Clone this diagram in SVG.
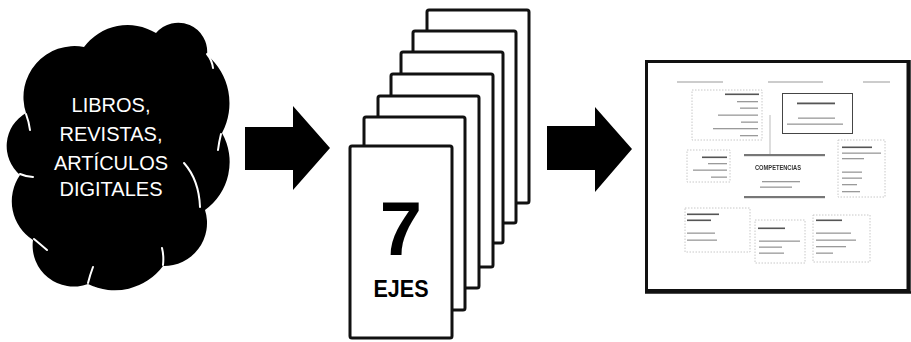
<svg xmlns="http://www.w3.org/2000/svg" width="911" height="342" viewBox="0 0 911 342">
<defs>
<style>
.card{fill:#fff;stroke:#111;stroke-width:3;stroke-linejoin:round}
.arrow{fill:#000}
.cloudtxt{font-family:"Liberation Sans",Arial,sans-serif;font-size:20px;fill:#fff;text-anchor:middle}
.big{font-family:"Liberation Sans",Arial,sans-serif;font-weight:bold;fill:#000;text-anchor:middle}
.cusp{fill:none;stroke:#fff;stroke-width:2;stroke-linecap:round}
.t{fill:#9a9a9a}
.tb{fill:#555}
.dbox{fill:none;stroke:#c8c8c8;stroke-width:1;stroke-dasharray:1.5 1.5}
</style>
<filter id="soft" x="-5%" y="-5%" width="110%" height="110%"><feGaussianBlur stdDeviation="0.4"/></filter>
</defs>

<g id="cloud">
<path fill="#000" d="M26,113 A51,51 0 0 1 84,47 A54.6,54.6 0 0 1 156,33 A29,29 0 0 1 207,55 A63,63 0 0 1 222,133 A59,59 0 0 1 205,210 A43,43 0 0 1 163,266 A60,60 0 0 1 88,284 A41,41 0 0 1 33,240 A46,46 0 0 1 20,175 A38,38 0 0 1 26,113 Z"/>
<path class="cusp" d="M207,54 Q212,60 213,68"/>
<path class="cusp" d="M221,134 Q219,142 218,150"/>
<path class="cusp" d="M184,163 Q199,180 200,207"/>
<path class="cusp" d="M20,174 Q27,177 33,177"/>
<path class="cusp" d="M26,114 Q29,122 30,130"/>
<path class="cusp" d="M163,265 Q164,256 162,248"/>
<path class="cusp" d="M88,283 Q90,275 93,267"/>
<path class="cusp" d="M34,239 Q40,244 47,250"/>
<text class="cloudtxt" x="111" y="112">LIBROS,</text>
<text class="cloudtxt" x="111" y="141">REVISTAS,</text>
<text class="cloudtxt" x="111" y="170">ARTÍCULOS</text>
<text class="cloudtxt" x="111" y="196">DIGITALES</text>
</g>

<g id="cards">
<rect class="card" x="427" y="10" width="102" height="193" rx="2"/>
<rect class="card" x="413" y="31" width="103" height="192" rx="2"/>
<rect class="card" x="401" y="52" width="102" height="191" rx="2"/>
<rect class="card" x="391" y="74" width="102" height="193" rx="2"/>
<rect class="card" x="378" y="96" width="101" height="192" rx="2"/>
<rect class="card" x="364" y="117" width="101" height="193" rx="2"/>
<rect class="card" x="350" y="146" width="102" height="192" rx="2"/>
<text class="big" x="401" y="255" font-size="76">7</text>
<text class="big" x="401" y="297" font-size="24" textLength="55" lengthAdjust="spacingAndGlyphs">EJES</text>
</g>

<g id="connectors">
<path class="arrow" d="M245,127 H293 V106 L330,148 L293,190 V170 H245 Z"/>
<path class="arrow" d="M547,126 H595 V107 L632,149 L595,192 V170 H547 Z"/>
</g>

<g id="concept-map">
<rect x="646.5" y="61.5" width="261.5" height="229" fill="#fff" stroke="#111" stroke-width="3"/>
<line x1="645" y1="292.5" x2="911" y2="292.5" stroke="#111" stroke-width="2.5"/>
<line x1="909.5" y1="60" x2="909.5" y2="293" stroke="#111" stroke-width="2.5"/>
<g filter="url(#soft)">
<!-- header lines -->
<rect class="t" x="677" y="81.5" width="46" height="1"/>
<rect class="t" x="768" y="81.5" width="55" height="1"/>
<rect class="t" x="863" y="81.5" width="27" height="1"/>
<!-- box 1 -->
<rect class="dbox" x="692" y="90" width="70" height="50"/>
<rect class="tb" x="725" y="93.5" width="34" height="1.6"/>
<rect class="t" x="737" y="101" width="21" height="1.3"/>
<rect class="t" x="740" y="107.5" width="18" height="1.3"/>
<rect class="t" x="718" y="114.5" width="40" height="1.3"/>
<rect class="t" x="741" y="121.5" width="17" height="1.3"/>
<rect class="t" x="713" y="128" width="45" height="1.3"/>
<rect class="t" x="740" y="135" width="18" height="1.3"/>
<line x1="770" y1="115" x2="770" y2="154" stroke="#aaa" stroke-width="0.8"/>
<!-- box 2 -->
<rect x="782.5" y="93.5" width="70" height="40" fill="none" stroke="#444" stroke-width="1"/>
<rect class="tb" x="797" y="102.5" width="38" height="1.8"/>
<rect class="t" x="798" y="117.5" width="37" height="1.3"/>
<rect class="t" x="787" y="123.5" width="56" height="1.3"/>
<!-- box 3 -->
<rect class="dbox" x="687" y="150" width="43" height="32"/>
<rect class="tb" x="702" y="156.5" width="25" height="1.6"/>
<rect class="t" x="708" y="163" width="19" height="1.3"/>
<rect class="t" x="693" y="169.5" width="34" height="1.3"/>
<rect class="t" x="711" y="176.5" width="16" height="1.3"/>
<!-- center -->
<rect x="744" y="154" width="81" height="2.2" fill="#777"/>
<text x="778" y="170" font-family="'Liberation Sans',Arial,sans-serif" font-size="8" font-weight="bold" fill="#333" text-anchor="middle" textLength="46" lengthAdjust="spacingAndGlyphs">COMPETENCIAS</text>
<rect class="t" x="762" y="181" width="38" height="1.3"/>
<rect class="t" x="760" y="186.5" width="32" height="1.3"/>
<rect x="744" y="196" width="81" height="2.2" fill="#777"/>
<!-- box right -->
<rect class="dbox" x="838" y="140" width="47" height="57"/>
<rect class="tb" x="842" y="146.5" width="30" height="1.6"/>
<rect class="t" x="842" y="152.5" width="39" height="1.3"/>
<rect class="t" x="842" y="158" width="22" height="1.3"/>
<rect class="t" x="842" y="171.5" width="20" height="1.3"/>
<rect class="t" x="842" y="177.5" width="20" height="1.3"/>
<rect class="t" x="842" y="184" width="15" height="1.3"/>
<rect class="t" x="842" y="191" width="18" height="1.3"/>
<!-- bottom-left box -->
<rect class="dbox" x="685" y="208" width="65" height="44"/>
<rect class="tb" x="687" y="213.5" width="32" height="1.6"/>
<rect class="tb" x="687" y="219.5" width="24" height="1.6"/>
<rect class="t" x="687" y="232.5" width="28" height="1.3"/>
<rect class="t" x="687" y="239.5" width="30" height="1.3"/>
<!-- bottom-middle box -->
<rect class="dbox" x="755" y="220" width="50" height="43"/>
<rect class="tb" x="758" y="227.5" width="27" height="1.6"/>
<rect class="t" x="759" y="240.5" width="41" height="1.3"/>
<rect class="t" x="759" y="246.5" width="23" height="1.3"/>
<rect class="t" x="759" y="252.5" width="25" height="1.3"/>
<!-- bottom-right box -->
<rect class="dbox" x="813" y="215" width="57" height="47"/>
<rect class="tb" x="816" y="219.5" width="26" height="1.6"/>
<rect class="t" x="816" y="232.5" width="35" height="1.3"/>
<rect class="t" x="816" y="239.5" width="40" height="1.3"/>
<rect class="t" x="816" y="246" width="30" height="1.3"/>
<rect class="t" x="816" y="252.5" width="17" height="1.3"/>
</g>
</g>
</svg>
